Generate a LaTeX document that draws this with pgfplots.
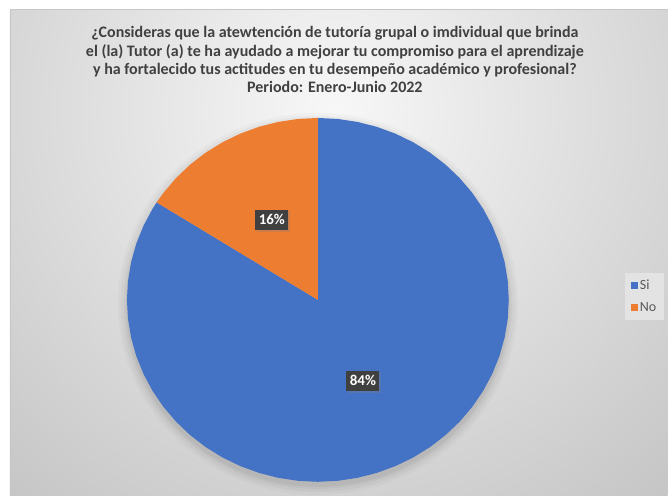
\documentclass[border=0pt]{standalone}
\usepackage{fontspec}
\setmainfont{Carlito}
\usepackage{pgfplots}
\pgfplotsset{compat=1.18}
\usetikzlibrary{shadows}
\definecolor{piblue}{HTML}{4472C4}
\definecolor{piorange}{HTML}{ED7D31}
\definecolor{titlegray}{HTML}{404040}
\definecolor{leggray}{HTML}{595959}
\definecolor{boxgray}{HTML}{404040}
\definecolor{legbg}{HTML}{E3E3E3}
\begin{document}
\begin{tikzpicture}[x=1pt,y=1pt]
\fill[white] (0,0) rectangle (668,-496);
\begin{scope}
\clip (10,-9) rectangle (668,-496);
\shade[inner color=white!97!black, outer color=black!30] (334,-110) circle (700);
\end{scope}
\draw[gray!45, line width=0.6pt] (10,-496) -- (10,-9) -- (668,-9);
% soft shadow of the pie
\foreach \d/\o in {9/0.025,6/0.03,3/0.035,1/0.04}{
  \fill[black, opacity=\o] (318,-304) ellipse ({191+\d} and {182+\d});
}
\begin{axis}[at={(318pt,-300pt)}, anchor=center, x=191pt, y=182pt,
  xmin=-1, xmax=1, ymin=-1, ymax=1, hide axis, clip=false,
  legend cell align=left,
  legend image code/.code={\fill[#1] (0pt,-3.5pt) rectangle (7pt,3.5pt);},
  legend style={draw=none, fill=legbg,
    at={(1.3037,0.574)}, anchor=north west,
    font=\fontsize{14}{15}\selectfont, text=leggray,
    row sep=7pt, inner xsep=6pt, inner ysep=5pt,
    /tikz/every even column/.append style={column sep=3pt}},
]
% Si: 84% (from 147.6 deg clockwise round to 90 deg)
\addplot[fill=piblue, draw=none] coordinates {
(0,0) (-0.8443,0.5358) (-0.8660,0.5) (-0.9135,0.4067) (-0.9511,0.3090)
(-0.9781,0.2079) (-0.9945,0.1045) (-1,0) (-0.9945,-0.1045) (-0.9781,-0.2079)
(-0.9511,-0.3090) (-0.9135,-0.4067) (-0.8660,-0.5) (-0.8090,-0.5878)
(-0.7431,-0.6691) (-0.6691,-0.7431) (-0.5878,-0.8090) (-0.5,-0.8660)
(-0.4067,-0.9135) (-0.3090,-0.9511) (-0.2079,-0.9781) (-0.1045,-0.9945)
(0,-1) (0.1045,-0.9945) (0.2079,-0.9781) (0.3090,-0.9511) (0.4067,-0.9135)
(0.5,-0.8660) (0.5878,-0.8090) (0.6691,-0.7431) (0.7431,-0.6691)
(0.8090,-0.5878) (0.8660,-0.5) (0.9135,-0.4067) (0.9511,-0.3090)
(0.9781,-0.2079) (0.9945,-0.1045) (1,0) (0.9945,0.1045) (0.9781,0.2079)
(0.9511,0.3090) (0.9135,0.4067) (0.8660,0.5) (0.8090,0.5878) (0.7431,0.6691)
(0.6691,0.7431) (0.5878,0.8090) (0.5,0.8660) (0.4067,0.9135) (0.3090,0.9511)
(0.2079,0.9781) (0.1045,0.9945) (0,1) (0,0)};
\addlegendentry{Si}
% No: 16% (from 90 deg to 147.6 deg)
\addplot[fill=piorange, draw=none] coordinates {
(0,0) (0,1) (-0.1045,0.9945) (-0.2079,0.9781) (-0.3090,0.9511)
(-0.4067,0.9135) (-0.5,0.8660) (-0.5878,0.8090) (-0.6691,0.7431)
(-0.7431,0.6691) (-0.8090,0.5878) (-0.8443,0.5358) (0,0)};
\addlegendentry{No}
\node[fill=boxgray, text=white, font=\fontsize{15}{16}\selectfont\bfseries,
  inner xsep=3.5pt, inner ysep=5pt, drop shadow={opacity=0.3, shadow xshift=1.5pt, shadow yshift=-1.5pt}]
  at (axis cs:-0.241,0.44) {16\%};
\node[fill=boxgray, text=white, font=\fontsize{15}{16}\selectfont\bfseries,
  inner xsep=3.5pt, inner ysep=5pt, drop shadow={opacity=0.3, shadow xshift=1.5pt, shadow yshift=-1.5pt}]
  at (axis cs:0.236,-0.445) {84\%};
\end{axis}
\begin{scope}[every node/.style={anchor=base, inner sep=0pt, text=titlegray,
   font=\fontsize{16}{18}\selectfont\bfseries}]
\node at (335,-38) {¿Consideras que la atewtención de tutoría grupal o imdividual que brinda};
\node at (335,-56.3) {el (la) Tutor (a) te ha ayudado a mejorar tu compromiso para el aprendizaje};
\node at (335,-74.6) {y ha fortalecido tus actitudes en tu desempeño académico y profesional?};
\node at (335,-93) {Periodo: Enero-Junio 2022};
\end{scope}
\end{tikzpicture}
\end{document}
